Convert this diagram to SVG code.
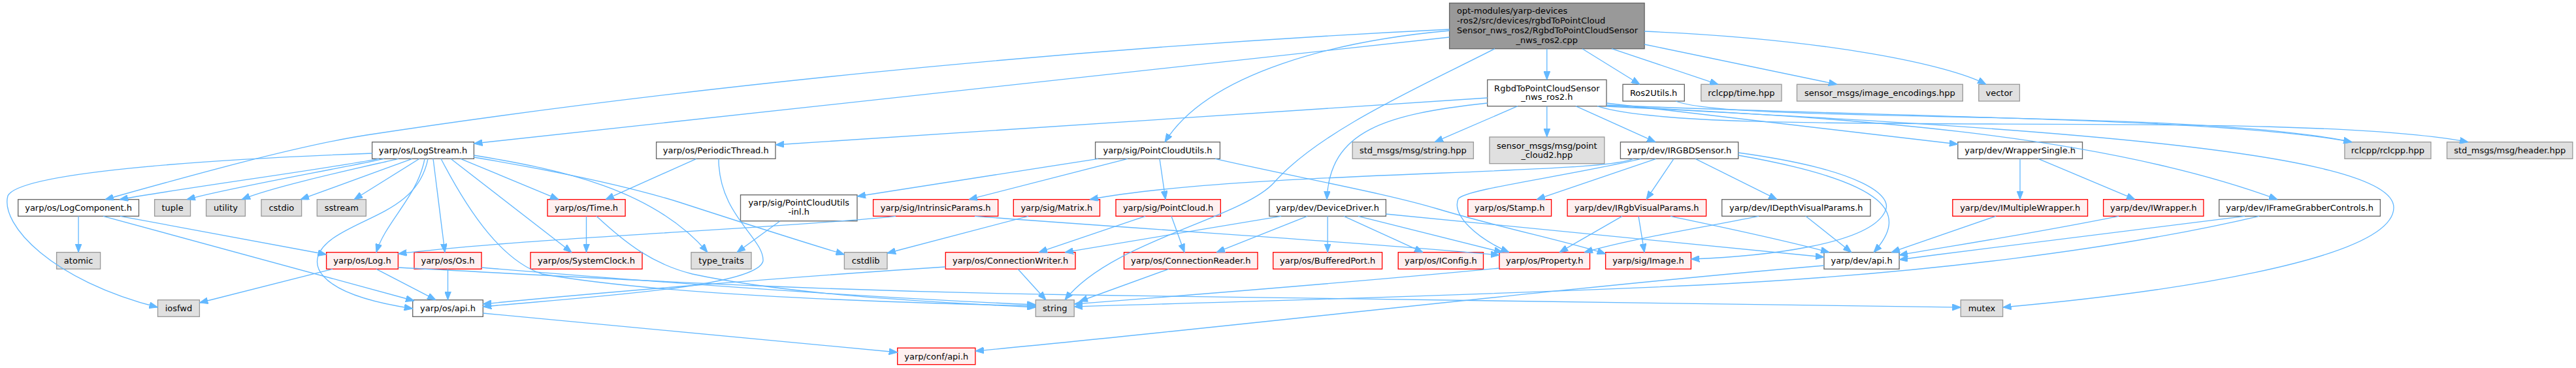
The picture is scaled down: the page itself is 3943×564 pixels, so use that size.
<svg xmlns="http://www.w3.org/2000/svg" width="3943" height="564" viewBox="0 0 3943 564">
<style>
.w rect{fill:#ffffff;stroke:#666666;stroke-width:1.33}
.r rect{fill:#fff0f0;stroke:#ff0000;stroke-width:1.33}
.g rect{fill:#e0e0e0;stroke:#999999;stroke-width:1.33}
.m rect{fill:#999999;stroke:#666666;stroke-width:1.33}
text{font-family:"DejaVu Sans","Liberation Sans",sans-serif;font-size:13px;fill:#000000;text-anchor:middle}
text.l{text-anchor:start}
#edges path{fill:none;stroke:#63b8ff;stroke-width:1.33;marker-end:url(#a)}
</style>
<defs>
<marker id="a" viewBox="0 0 13 10" refX="13" refY="5" markerWidth="13" markerHeight="10" markerUnits="userSpaceOnUse" orient="auto">
<path d="M0,0 L13,5 L0,10 z" fill="#63b8ff" stroke="#63b8ff" stroke-width="1"/>
</marker>
</defs>
<rect x="0" y="0" width="3943" height="564" fill="#ffffff"/>

<g id="main" class="m"><rect x="2218.6" y="4.7" width="298.5" height="70"/>
<text class="l" x="2230" y="20.5">opt-modules/yarp-devices</text>
<text class="l" x="2230" y="35.8">-ros2/src/devices/rgbdToPointCloud</text>
<text class="l" x="2230" y="50.9">Sensor_nws_ros2/RgbdToPointCloudSensor</text>
<text x="2367.85" y="66">_nws_ros2.cpp</text></g>

<g id="n_h" class="w"><rect x="2276.7" y="122.3" width="182.3" height="40.4"/><text x="2367.85" y="139.5">RgbdToPointCloudSensor</text><text x="2367.85" y="153">_nws_ros2.h</text></g>
<g id="ros2utils" class="w"><rect x="2484" y="129.3" width="94.3" height="25.7"/><text x="2531.15" y="146.6">Ros2Utils.h</text></g>
<g id="rclcpptime" class="g"><rect x="2603.8" y="129.3" width="123.2" height="25.7"/><text x="2665.4" y="146.6">rclcpp/time.hpp</text></g>
<g id="imgenc" class="g"><rect x="2750.5" y="129.3" width="253.8" height="25.7"/><text x="2877.4" y="146.6">sensor_msgs/image_encodings.hpp</text></g>
<g id="vector" class="g"><rect x="3028.8" y="129.3" width="62.6" height="25.7"/><text x="3060.1" y="146.6">vector</text></g>

<g id="logstream" class="w"><rect x="569.6" y="217.7" width="155.8" height="25.6"/><text x="647.5" y="235">yarp/os/LogStream.h</text></g>
<g id="periodic" class="w"><rect x="1004.6" y="217.7" width="182.4" height="25.6"/><text x="1095.8" y="235">yarp/os/PeriodicThread.h</text></g>
<g id="pcutils" class="w"><rect x="1676.6" y="217.7" width="190.8" height="25.6"/><text x="1772" y="235">yarp/sig/PointCloudUtils.h</text></g>
<g id="stdstring" class="g"><rect x="2070.2" y="217.7" width="185.2" height="25.6"/><text x="2162.8" y="235">std_msgs/msg/string.hpp</text></g>
<g id="pc2" class="g"><rect x="2280" y="210" width="175.8" height="40.7"/><text x="2367.9" y="228">sensor_msgs/msg/point</text><text x="2367.9" y="241.5">_cloud2.hpp</text></g>
<g id="irgbd" class="w"><rect x="2480.4" y="217.7" width="180.3" height="25.6"/><text x="2570.55" y="235">yarp/dev/IRGBDSensor.h</text></g>
<g id="wrapsingle" class="w"><rect x="2996.8" y="217.7" width="190.7" height="25.6"/><text x="3092.15" y="235">yarp/dev/WrapperSingle.h</text></g>
<g id="rclcpp" class="g"><rect x="3588.9" y="217.7" width="132" height="25.6"/><text x="3654.9" y="235">rclcpp/rclcpp.hpp</text></g>
<g id="header" class="g"><rect x="3745.5" y="217.7" width="192.3" height="25.6"/><text x="3841.65" y="235">std_msgs/msg/header.hpp</text></g>

<g id="logcomp" class="w"><rect x="27.7" y="305.7" width="184.8" height="25.6"/><text x="120.1" y="323">yarp/os/LogComponent.h</text></g>
<g id="tuple" class="g"><rect x="236.6" y="305.7" width="54.9" height="25.6"/><text x="264.05" y="323">tuple</text></g>
<g id="utility" class="g"><rect x="315.6" y="305.7" width="59.8" height="25.6"/><text x="345.5" y="323">utility</text></g>
<g id="cstdio" class="g"><rect x="400" y="305.7" width="61.6" height="25.6"/><text x="430.8" y="323">cstdio</text></g>
<g id="sstream" class="g"><rect x="485.3" y="305.7" width="75" height="25.6"/><text x="522.8" y="323">sstream</text></g>
<g id="time" class="r"><rect x="838" y="305.7" width="119.1" height="25.6"/><text x="897.55" y="323">yarp/os/Time.h</text></g>
<g id="inl" class="w"><rect x="1133.5" y="298.7" width="178.5" height="40"/><text x="1222.75" y="315">yarp/sig/PointCloudUtils</text><text x="1222.75" y="328.5">-inl.h</text></g>
<g id="intrinsic" class="r"><rect x="1336.6" y="305.7" width="191.1" height="25.6"/><text x="1432.15" y="323">yarp/sig/IntrinsicParams.h</text></g>
<g id="matrix" class="r"><rect x="1551.3" y="305.7" width="132.2" height="25.6"/><text x="1617.4" y="323">yarp/sig/Matrix.h</text></g>
<g id="pointcloud" class="r"><rect x="1708" y="305.7" width="160.3" height="25.6"/><text x="1788.15" y="323">yarp/sig/PointCloud.h</text></g>
<g id="devdriver" class="w"><rect x="1942.9" y="305.7" width="178.5" height="25.6"/><text x="2032.15" y="323">yarp/dev/DeviceDriver.h</text></g>
<g id="stamp" class="r"><rect x="2246.9" y="305.7" width="127.7" height="25.6"/><text x="2310.75" y="323">yarp/os/Stamp.h</text></g>
<g id="irgbvis" class="r"><rect x="2399.1" y="305.7" width="212.5" height="25.6"/><text x="2505.35" y="323">yarp/dev/IRgbVisualParams.h</text></g>
<g id="idepthvis" class="w"><rect x="2635.7" y="305.7" width="227.3" height="25.6"/><text x="2749.35" y="323">yarp/dev/IDepthVisualParams.h</text></g>
<g id="imultwrap" class="r"><rect x="2988.8" y="305.7" width="206.7" height="25.6"/><text x="3092.15" y="323">yarp/dev/IMultipleWrapper.h</text></g>
<g id="iwrapper" class="r"><rect x="3219.6" y="305.7" width="153.3" height="25.6"/><text x="3296.25" y="323">yarp/dev/IWrapper.h</text></g>
<g id="ifgc" class="w"><rect x="3396.7" y="305.7" width="246.7" height="25.6"/><text x="3520.05" y="323">yarp/dev/IFrameGrabberControls.h</text></g>

<g id="atomic" class="g"><rect x="86.6" y="386.7" width="67" height="25.6"/><text x="120.1" y="404">atomic</text></g>
<g id="log" class="r"><rect x="499.6" y="386.7" width="109.8" height="25.6"/><text x="554.5" y="404">yarp/os/Log.h</text></g>
<g id="os" class="r"><rect x="634" y="386.7" width="103" height="25.6"/><text x="685.5" y="404">yarp/os/Os.h</text></g>
<g id="sysclock" class="r"><rect x="812" y="386.7" width="171" height="25.6"/><text x="897.5" y="404">yarp/os/SystemClock.h</text></g>
<g id="typetraits" class="g"><rect x="1058" y="386.7" width="92" height="25.6"/><text x="1104" y="404">type_traits</text></g>
<g id="cstdlib" class="g"><rect x="1292.4" y="386.7" width="65.6" height="25.6"/><text x="1325.2" y="404">cstdlib</text></g>
<g id="connwriter" class="r"><rect x="1447.3" y="386.7" width="198.7" height="25.6"/><text x="1546.65" y="404">yarp/os/ConnectionWriter.h</text></g>
<g id="connreader" class="r"><rect x="1720.5" y="386.7" width="204.5" height="25.6"/><text x="1822.75" y="404">yarp/os/ConnectionReader.h</text></g>
<g id="bufport" class="r"><rect x="1948.7" y="386.7" width="166.9" height="25.6"/><text x="2032.15" y="404">yarp/os/BufferedPort.h</text></g>
<g id="iconfig" class="r"><rect x="2140.2" y="386.7" width="130.3" height="25.6"/><text x="2205.35" y="404">yarp/os/IConfig.h</text></g>
<g id="property" class="r"><rect x="2295" y="386.7" width="138.5" height="25.6"/><text x="2364.25" y="404">yarp/os/Property.h</text></g>
<g id="image" class="r"><rect x="2457.6" y="386.7" width="130.8" height="25.6"/><text x="2523" y="404">yarp/sig/Image.h</text></g>
<g id="devapi" class="w"><rect x="2792" y="386.7" width="115.1" height="25.6"/><text x="2849.55" y="404">yarp/dev/api.h</text></g>

<g id="iosfwd" class="g"><rect x="241.5" y="459.7" width="63.9" height="25.6"/><text x="273.45" y="477">iosfwd</text></g>
<g id="osapi" class="w"><rect x="631.7" y="459.7" width="107.6" height="25.6"/><text x="685.5" y="477">yarp/os/api.h</text></g>
<g id="string" class="g"><rect x="1585.3" y="459.7" width="58.9" height="25.6"/><text x="1614.75" y="477">string</text></g>
<g id="mutex" class="g"><rect x="3001.3" y="459.7" width="64.3" height="25.6"/><text x="3033.45" y="477">mutex</text></g>

<g id="confapi" class="r"><rect x="1373.7" y="533.3" width="119.2" height="25.4"/><text x="1433.3" y="550.5">yarp/conf/api.h</text></g>

<g id="edges">
<path d="M2367.8,74.7 L2367.8,122.3"/>
<path d="M2422,74.7 L2510,129.3"/>
<path d="M2467,74.7 L2630,129.3"/>
<path d="M2517,68 L2812,129.3"/>
<path d="M2517,48 C2800,60 2985,100 3040,129.3"/>
<path d="M2218.6,57 L725.4,220"/>
<path d="M2218.6,45 C1600,75 1000,140 561,207 C450,224 260,278 161,305.7"/>
<path d="M2218.6,47 C2050,62 1850,110 1783,217.7"/>
<path d="M2288,74.7 C2180,130 2020,200 1950,280 C1900,335 1700,370 1630,459.7"/>

<path d="M2276.7,150 L1187,222"/>
<path d="M2276.7,158 C2120,175 2035,200 2031,305.7"/>
<path d="M2323,162.7 L2196,217.7"/>
<path d="M2367.8,162.7 L2367.8,210"/>
<path d="M2412,162.7 L2534,217.7"/>
<path d="M2459,158 L2996.8,221"/>
<path d="M2459,161 C2900,180 3400,180 3600,217.7"/>
<path d="M2445,162.7 C2600,215 3500,165 3778,217.7"/>
<path d="M2459,162 C2800,180 3200,200 3486,305.7"/>
<path d="M2459,163 C3100,195 3664,230 3664,318 C3664,400 3300,450 3065.6,471"/>
<path d="M2565,155 C2650,190 3350,165 3600,217.7"/>

<path d="M3092,243.3 L3092,305.7"/>
<path d="M3120,243.3 L3268,305.7"/>

<path d="M569.6,235 C300,245 30,265 12,300 C0,345 80,430 241.5,471"/>
<path d="M580,243.3 C480,262 300,285 183,305.7"/>
<path d="M588,243.3 C500,262 350,288 286,305.7"/>
<path d="M610,243.3 C560,255 420,285 370,305.7"/>
<path d="M631,243.3 L460,305.7"/>
<path d="M642,243.3 L542,305.7"/>
<path d="M650,243.3 C640,300 590,340 576,386.7"/>
<path d="M655,243.3 C640,320 560,330 510,365 C460,400 480,450 631.7,473"/>
<path d="M663,243.3 L681,386.7"/>
<path d="M675,243.3 C720,330 770,400 830,420 C1000,450 1300,462 1585.3,469"/>
<path d="M690,243.3 L875,386.7"/>
<path d="M705,243.3 L855,305.7"/>
<path d="M725.4,238 C860,260 1000,290 1083,386.7"/>
<path d="M725.4,241 C850,262 960,285 1040,310 C1120,336 1220,368 1292.4,390"/>

<path d="M120.1,331.3 L120.1,386.7"/>
<path d="M184,331.3 L499.6,390"/>
<path d="M158,331.3 L634,461"/>
<path d="M509,412.3 L305.4,464"/>
<path d="M576,412.3 L667,459.7"/>
<path d="M609.4,410 C900,425 1200,445 1650,452 C2200,458 2600,468 3001.3,471"/>
<path d="M685.5,412.3 L685.5,459.7"/>
<path d="M737,410 C1000,432 1300,455 1585.3,467"/>
<path d="M897.5,331.3 L897.5,386.7"/>
<path d="M913,331.3 C960,375 1000,405 1060,420 C1200,450 1400,462 1585.3,471"/>
<path d="M1066,243.3 L927,305.7"/>
<path d="M1100,243.3 C1100,330 1170,365 1168,400 C1160,440 900,455 739.3,470"/>

<path d="M1681,243.3 L1312,301"/>
<path d="M1726,243.3 L1483,305.7"/>
<path d="M1775,243.3 L1784,305.7"/>
<path d="M1860,243.3 C2000,275 2120,296 2200,320 C2300,350 2400,370 2457.6,389"/>

<path d="M2500,243.3 C2450,268 1900,262 1668,305.7"/>
<path d="M2512,243.3 C2400,270 2240,290 2232,305 C2222,330 2260,365 2310,386.7"/>
<path d="M2535,243.3 L2352,305.7"/>
<path d="M2562,243.3 L2520,305.7"/>
<path d="M2595,243.3 L2720,305.7"/>
<path d="M2660.7,238 C2900,280 2920,330 2868,386.7"/>
<path d="M2660.7,234 C2850,260 2900,300 2885,325 C2860,375 2700,393 2588.4,397"/>

<path d="M2483,331.3 L2387,386.7"/>
<path d="M2508,331.3 L2517,386.7"/>
<path d="M2557,331.3 C2620,345 2720,365 2800,386.7"/>
<path d="M2692,331.3 C2600,350 2500,365 2425,386.7"/>
<path d="M2764,331.3 L2834,386.7"/>
<path d="M3055,331.3 L2895,386.7"/>
<path d="M3243,331.3 C3100,360 2980,378 2907,391"/>
<path d="M3436,331.3 C3300,350 3100,372 2907,398"/>
<path d="M3458,331.3 C3250,380 2950,420 2600,437 C2200,455 1900,462 1644.2,470"/>

<path d="M1961,331.3 L1630,386.7"/>
<path d="M2001,331.3 L1862,386.7"/>
<path d="M2032.15,331.3 L2032.15,386.7"/>
<path d="M2057,331.3 L2178,386.7"/>
<path d="M2079,331.3 L2300,386.7"/>
<path d="M2121.4,328 L2792,394"/>

<path d="M1492,331.3 C1800,355 2100,372 2295,391"/>
<path d="M1371,331.3 C1200,350 800,365 609.4,389"/>
<path d="M1574,331.3 L1358,388"/>
<path d="M1753,331.3 L1590,386.7"/>
<path d="M1793,331.3 L1813,386.7"/>
<path d="M1194,338.7 L1128,386.7"/>

<path d="M1447.3,409 C1200,425 900,450 739.3,466"/>
<path d="M1558,412.3 L1601,459.7"/>
<path d="M1789,412.3 L1652,462"/>
<path d="M2295,411 C2100,430 1850,450 1644.2,466"/>
<path d="M2792,407 C2400,440 1800,510 1492.9,538"/>
<path d="M739.3,480 L1373.7,540"/>
</g>
</svg>
